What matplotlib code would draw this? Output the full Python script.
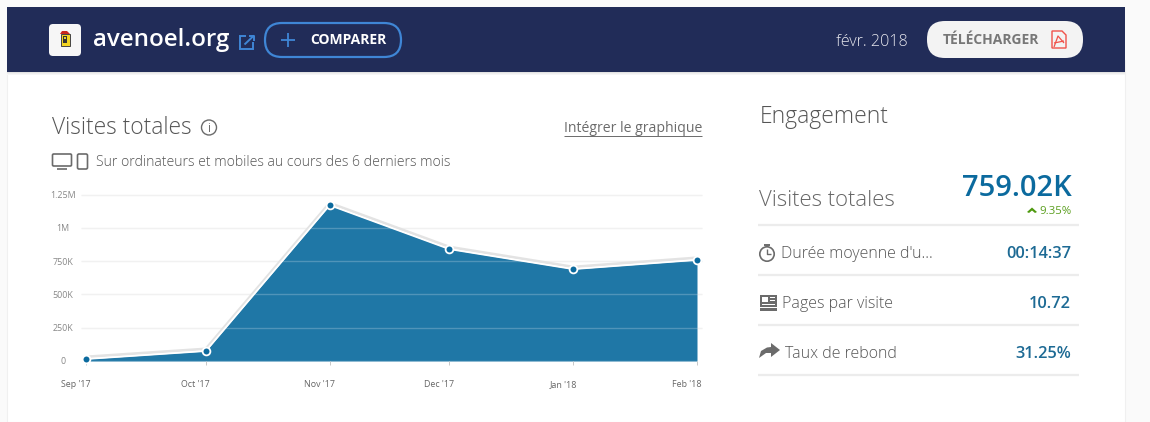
import datetime as dt

import matplotlib
matplotlib.use("Agg")
import matplotlib.dates as mdates
import matplotlib.pyplot as plt
from matplotlib.patches import Circle, FancyBboxPatch, Polygon, Rectangle
from matplotlib.transforms import ScaledTranslation

plt.rcParams["font.family"] = ["Open Sans", "DejaVu Sans"]
plt.rcParams["lines.solid_capstyle"] = "butt"

# data
months = [dt.date(2017, 9, 1), dt.date(2017, 10, 1), dt.date(2017, 11, 1),
          dt.date(2017, 12, 1), dt.date(2018, 1, 1), dt.date(2018, 2, 1)]
month_labels = ["Sep '17", "Oct '17", "Nov '17", "Dec '17", "Jan '18", "Feb '18"]
visits = [15000, 75000, 1170000, 840000, 690000, 759020]
y_ticks = [0, 250000, 500000, 750000, 1000000, 1250000]
y_labels = ["0", "250K", "500K", "750K", "1M", "1.25M"]
metric_labels = ["Durée moyenne d'u...", "Pages par visite", "Taux de rebond"]
metric_values = ["00:14:37", "10.72", "31.25%"]

W, H = 1150, 422
NAVY = "#212c58"
BLUE = "#1f77a6"
DARK_BLUE = "#0b6a9e"
GREY = "#6b6b6b"

fig = plt.figure(figsize=(W / 100, H / 100), dpi=100, facecolor="#fafafa")

# page in pixel coordinates, y going down
bg = fig.add_axes([0, 0, 1, 1])
bg.set_xlim(0, W)
bg.set_ylim(H, 0)
bg.axis("off")


def rrect(ax, x, y, w, h, r, **kw):
    ax.add_patch(FancyBboxPatch((x + r, y + r), w - 2 * r, h - 2 * r,
                                boxstyle=f"round,pad={r},rounding_size={r}", **kw))


# card and header
bg.add_patch(Rectangle((7, 60), 1118, 362, fc="white", ec="#f0f0f0", lw=0.8))
for i, c in enumerate(["#e2e2e2", "#eeeeee", "#f6f6f6"]):
    bg.add_patch(Rectangle((7, 72 + i), 1118, 1.2, fc=c, ec="none"))
bg.add_patch(Rectangle((7, 7), 1118, 65, fc=NAVY, ec="none"))

# site logo
rrect(bg, 49, 24, 32, 32, 4, fc="#f6f6f6", ec="none")
bg.add_patch(Rectangle((60.5, 34), 9, 12, fc="#f2d422", ec="#444444", lw=0.7))
bg.add_patch(Polygon([(60, 34), (62, 31), (67, 31), (70, 34)], fc="#c8281e", ec="none"))
bg.add_patch(Rectangle((63, 36), 4, 7, fc="#333333", ec="none"))
bg.add_patch(Rectangle((64, 37), 2, 2, fc="#f2d422", ec="none"))

bg.text(92.5, 39.5, "avenoel.org", fontsize=17.4, fontweight="semibold", color="white", va="center")

# external link icon
bg.add_patch(Rectangle((240, 36), 13, 13, fc="none", ec="#3f86d6", lw=1.4))
bg.add_patch(Rectangle((246, 34), 9, 8, fc=NAVY, ec="none"))
bg.plot([244.5, 254], [44.5, 35.5], color="#3f86d6", lw=1.4)
bg.plot([249, 254, 254], [35.5, 35.5, 40.5], color="#3f86d6", lw=1.4)

# compare button
rrect(bg, 265, 23, 136, 34, 17, fc="none", ec="#3f86d6", lw=1.6)
bg.plot([288, 288], [33, 47], color="#3f86d6", lw=1.3)
bg.plot([281, 295], [40, 40], color="#3f86d6", lw=1.3)
bg.text(348, 40, "COMPARER", fontsize=10, fontweight="bold", color="white", ha="center", va="center")

bg.text(871.5, 41.5, "févr. 2018", fontsize=11.6, fontweight="light", color="#e8e8ee", ha="center", va="center")

# download button
rrect(bg, 927, 21, 156, 37, 18, fc="#f3f3f3", ec="none")
bg.text(991, 40, "TÉLÉCHARGER", fontsize=10, fontweight="bold", color="#777777", ha="center", va="center")
bg.add_patch(Polygon([(1052, 31), (1062, 31), (1066, 35), (1066, 48), (1052, 48)], fc="none", ec="#f0524a", lw=1))
bg.plot([1054, 1058, 1064], [47, 36, 43], color="#f0524a", lw=0.9)
bg.plot([1054, 1064], [43, 41], color="#f0524a", lw=0.9)

# chart headings
bg.text(52, 127.5, "Visites totales", fontsize=16.4, fontweight="light", color="#555555", va="center")
bg.add_patch(Circle((209, 127.5), 7.5, fc="none", ec=GREY, lw=1))
bg.text(209, 128, "i", fontsize=8.5, color=GREY, ha="center", va="center")
bg.text(702, 128.5, "Intégrer le graphique", fontsize=10.1, color=GREY, ha="right", va="center")
bg.plot([564, 702], [136, 136], color=GREY, lw=0.7)

# desktop and phone icons
rrect(bg, 52.5, 154, 19, 12, 1.2, fc="none", ec=GREY, lw=1.2)
bg.plot([57, 67], [169, 169], color=GREY, lw=1.2)
rrect(bg, 77.5, 154, 10, 15, 1.5, fc="none", ec=GREY, lw=1.2)
bg.text(96, 162.5, "Sur ordinateurs et mobiles au cours des 6 derniers mois", fontsize=10.1,
        fontweight="light", color="#555555", va="center")

# chart, axes box set so the months and values land on the reference pixels
ax_left, ax_right, ax_top, ax_bottom = 81, 702, 194.5, 361
ax = fig.add_axes([ax_left / W, 1 - ax_bottom / H, (ax_right - ax_left) / W, (ax_bottom - ax_top) / H])
ax.patch.set_alpha(0)
dates = mdates.date2num(months)
per_px = (dates[-1] - dates[0]) / (697 - 86)
ax.set_xlim(dates[0] - 5 * per_px, dates[-1] + 5 * per_px)
ax.set_ylim(0, 1250000)
ax.fill_between(dates, 0, visits, color=BLUE, lw=0, zorder=1)
ax.grid(axis="y", color="white", alpha=0.22, lw=1, zorder=2)
ax.plot(dates, [v + 16000 for v in visits], color="#e3e3e3", lw=2, zorder=3)
ax.plot(dates, visits, color="white", lw=1.3, zorder=3)
ax.plot(dates, visits, "o", ms=5.6, mfc=DARK_BLUE, mec="white", mew=1.3, zorder=4, clip_on=False)
for s in ax.spines.values():
    s.set_visible(False)
ax.set_xticks(dates, month_labels)
ax.set_yticks(y_ticks, y_labels)
ax.tick_params(axis="x", length=3, width=0.7, color="#c8c8c8", labelsize=6.4, labelcolor="#666666", pad=13)
ax.tick_params(axis="y", length=0, labelsize=6.4, labelcolor="#888888", pad=13)
# the reference sets its month labels 10px left of the ticks, value labels centred
shift = ScaledTranslation(-10 / 100, 0, fig.dpi_scale_trans)
for lab in ax.get_xticklabels():
    lab.set_va("center_baseline")
    lab.set_transform(lab.get_transform() + shift)
for lab in ax.get_yticklabels():
    lab.set_ha("center")
for y in y_ticks[1:]:
    bg.plot([ax_left, ax_right], [ax_bottom - y * (ax_bottom - ax_top) / 1250000] * 2, color="#eeeeee", lw=1, zorder=1)

# engagement panel
bg.text(760, 117, "Engagement", fontsize=16.5, fontweight="light", color="#555555", va="center")
bg.text(759, 200, "Visites totales", fontsize=15.9, fontweight="light", color="#666666", va="center")
bg.text(1072, 188, "759.02K", fontsize=21, fontweight="semibold", color=DARK_BLUE, ha="right", va="center")
bg.add_patch(Polygon([(1027, 212), (1032, 207.5), (1037, 212), (1035, 213), (1032, 210.5), (1029, 213)],
                     fc="#4f9a10", ec="none"))
bg.text(1072, 211, "9.35%", fontsize=8.2, color="#5a9e1e", ha="right", va="center")

for y in [225, 275, 325, 375]:
    bg.plot([758, 1079], [y, y], color="#ececec", lw=1.6)

for i, (label, value) in enumerate(zip(metric_labels, metric_values)):
    y = 254.5 + i * 50
    label_x = [781, 782.5, 785][i]
    bg.text(label_x, y, label, fontsize=11.5, fontweight="light", color="#555555", va="center")
    bg.text(1071, y, value, fontsize=11.8, fontweight="semibold", color="#1d6a94", ha="right", va="center")

# metric icons
bg.add_patch(Circle((767, 254), 7.2, fc="none", ec=GREY, lw=1.2))
bg.plot([767, 767, 771], [249, 254, 254], color=GREY, lw=1)
bg.plot([764, 770], [245, 245], color=GREY, lw=1.4)
bg.add_patch(Rectangle((760, 295), 17, 12, fc=GREY, ec="none"))
bg.add_patch(Rectangle((762, 297), 6, 5, fc="white", ec="none"))
bg.add_patch(Rectangle((769.5, 297), 5.5, 1, fc="white", ec="none"))
bg.add_patch(Rectangle((769.5, 300), 5.5, 1, fc="white", ec="none"))
bg.add_patch(Rectangle((762, 303.5), 13, 1, fc="white", ec="none"))
bg.add_patch(Rectangle((760, 308), 17, 2.5, fc=GREY, ec="none"))
bg.add_patch(Polygon([(759, 358), (761, 351), (767, 347.5), (771, 347), (771, 343),
                      (780, 350), (771, 357), (771, 353), (766, 353)], fc=GREY, ec="none"))

fig.savefig("out.png", dpi=100, facecolor=fig.get_facecolor())
